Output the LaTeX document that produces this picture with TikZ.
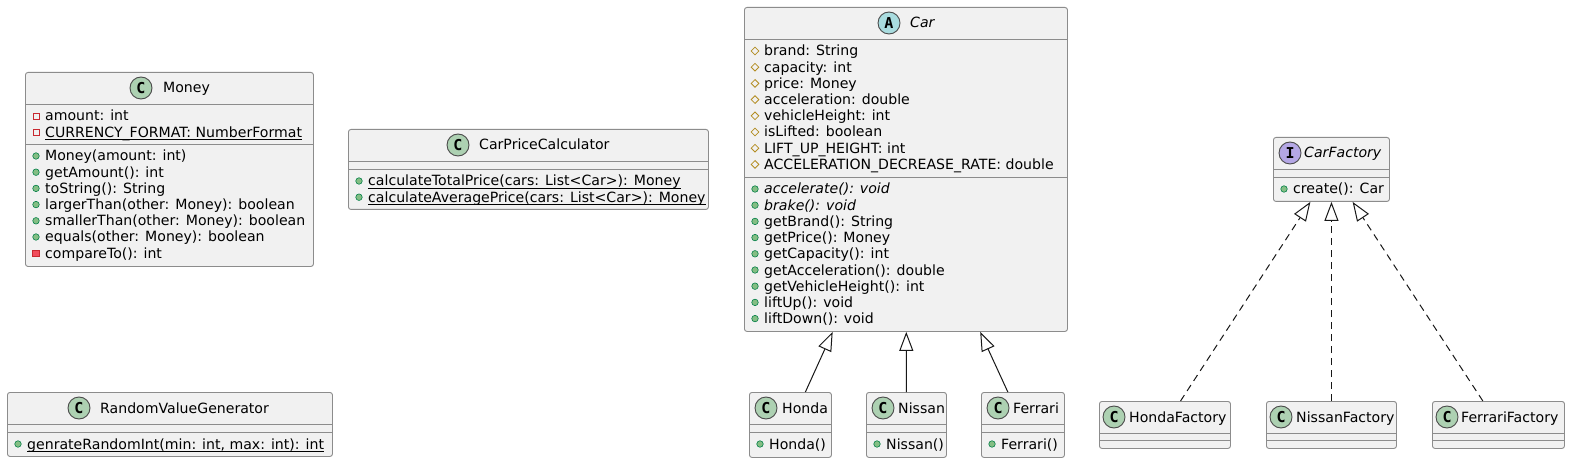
\documentclass[tikz,border=0pt]{standalone}
\usepackage{fontspec}
\setmainfont{DejaVu Sans}
\newfontfamily\spotfont{DejaVu Sans Mono}
\usetikzlibrary{arrows.meta,calc,shapes.geometric}
\definecolor{boxfill}{HTML}{F1F1F1}
\definecolor{boxline}{HTML}{181818}
\definecolor{boxedge}{HTML}{8C8C8C}
\definecolor{spotedge}{HTML}{4A4A4A}
\definecolor{spotC}{HTML}{ADD1B2}
\definecolor{spotA}{HTML}{A9DCDF}
\definecolor{spotI}{HTML}{B4A7E5}
\definecolor{pubfill}{HTML}{84BE84}
\definecolor{publine}{HTML}{038048}
\definecolor{privfill}{HTML}{F24D5C}
\definecolor{privline}{HTML}{C82930}
\definecolor{protline}{HTML}{B38D22}
\newcounter{mbr}
\newcommand\umlbox[5]{% name, left, top, width, height
  \node[classbox, minimum width=#4pt, minimum height=#5pt] (#1) at (#2,#3) {};}
\newcommand\hsep[2]{\draw[sepline] (#1.west |- 0,#2) -- (#1.east |- 0,#2);}
\newcommand\header[7]{% name, spot style, letter, spot x, top, text x, title
  \node[spot,#2] (#1-spot) at (#4,{#5+16}) {#3};
  \node[hdr] (#1-title) at (#6,{#5+21}) {#7};}
\newcommand\mem[5]{% icon style, left, section top, row, text
  \stepcounter{mbr}\edef\mbrn{\arabic{mbr}}%
  \node[#1] (ic\mbrn) at ({#2+11},{#3+12+16.2*#4}) {};
  \node[mtext] (mt\mbrn) at ({#2+20},{#3+17+16.2*#4}) {#5};}
\newcommand\smem[5]{\mem{#1}{#2}{#3}{#4}{#5}%
  \draw[uline] ([yshift=-2pt]mt\mbrn.base west) -- ([yshift=-2pt]mt\mbrn.base east);}
\tikzset{
  classbox/.style={draw=boxedge, fill=boxfill, line width=0.9pt, rounded corners=2.5pt, inner sep=0pt, anchor=north west},
  sepline/.style={draw=boxedge, line width=0.9pt},
  spot/.style={circle, draw=spotedge, line width=0.9pt, minimum size=22pt, inner sep=0pt, font=\spotfont\bfseries\fontsize{15pt}{15pt}\selectfont},
  hdr/.style={anchor=base west, inner sep=0pt, font=\fontsize{14.1pt}{16pt}\selectfont},
  mtext/.style={anchor=base west, inner sep=0pt, font=\fontsize{14.1pt}{16pt}\selectfont},
  uline/.style={draw=black, line width=0.7pt},
  pubm/.style={circle, fill=pubfill, draw=publine, line width=0.6pt, minimum size=6.5pt, inner sep=0pt},
  privf/.style={rectangle, draw=privline, line width=0.8pt, minimum size=6pt, inner sep=0pt},
  privm/.style={rectangle, fill=privfill, draw=privline, line width=0.8pt, minimum size=6.5pt, inner sep=0pt},
  protf/.style={diamond, aspect=1, draw=protline, line width=0.8pt, minimum width=8pt, minimum height=8pt, inner sep=0pt},
  ext/.style={draw=boxline, line width=1pt, -{Triangle[open, length=19pt, width=14pt]}},
  impl/.style={ext, dash pattern=on 7pt off 5pt},
}
\begin{document}
\begin{tikzpicture}[x=1pt, y=-1pt]
\useasboundingbox (0,0) rectangle (1570,462);
\fill[white] (0,0) rectangle (1570,462);

% Money
\umlbox{money}{25}{72}{288}{194}
\header{money}{fill=spotC}{C}{141}{72}{163}{Money}
\hsep{money}{104}\hsep{money}{144}
\mem{privf}{25}{104}{0}{amount: int}
\smem{privf}{25}{104}{1}{CURRENCY\_FORMAT: NumberFormat}
\mem{pubm}{25}{144}{0}{Money(amount: int)}
\mem{pubm}{25}{144}{1}{getAmount(): int}
\mem{pubm}{25}{144}{2}{toString(): String}
\mem{pubm}{25}{144}{3}{largerThan(other: Money): boolean}
\mem{pubm}{25}{144}{4}{smallerThan(other: Money): boolean}
\mem{pubm}{25}{144}{5}{equals(other: Money): boolean}
\mem{privm}{25}{144}{6}{compareTo(): int}

% CarPriceCalculator
\umlbox{cpc}{348}{129}{360}{80}
\header{cpc}{fill=spotC}{C}{458}{129}{479}{CarPriceCalculator}
\hsep{cpc}{161}\hsep{cpc}{169}
\smem{pubm}{348}{169}{0}{calculateTotalPrice(cars: List<Car>): Money}
\smem{pubm}{348}{169}{1}{calculateAveragePrice(cars: List<Car>): Money}

% RandomValueGenerator
\umlbox{rvg}{7}{392}{325}{64}
\header{rvg}{fill=spotC}{C}{79}{392}{100}{RandomValueGenerator}
\hsep{rvg}{424}\hsep{rvg}{432}
\smem{pubm}{7}{432}{0}{genrateRandomInt(min: int, max: int): int}

% Car
\umlbox{car}{744}{7}{323}{324}
\header{car}{fill=spotA}{A}{889}{7}{910}{\itshape Car}
\hsep{car}{39}\hsep{car}{177}
\mem{protf}{744}{39}{0}{brand: String}
\mem{protf}{744}{39}{1}{capacity: int}
\mem{protf}{744}{39}{2}{price: Money}
\mem{protf}{744}{39}{3}{acceleration: double}
\mem{protf}{744}{39}{4}{vehicleHeight: int}
\mem{protf}{744}{39}{5}{isLifted: boolean}
\mem{protf}{744}{39}{6}{LIFT\_UP\_HEIGHT: int}
\mem{protf}{744}{39}{7}{ACCELERATION\_DECREASE\_RATE: double}
\mem{pubm}{744}{177}{0}{\itshape accelerate(): void}
\mem{pubm}{744}{177}{1}{\itshape brake(): void}
\mem{pubm}{744}{177}{2}{getBrand(): String}
\mem{pubm}{744}{177}{3}{getPrice(): Money}
\mem{pubm}{744}{177}{4}{getCapacity(): int}
\mem{pubm}{744}{177}{5}{getAcceleration(): double}
\mem{pubm}{744}{177}{6}{getVehicleHeight(): int}
\mem{pubm}{744}{177}{7}{liftUp(): void}
\mem{pubm}{744}{177}{8}{liftDown(): void}

% Honda, Nissan, Ferrari
\umlbox{honda}{749}{392}{82}{65}
\header{honda}{fill=spotC}{C}{766}{392}{782}{Honda}
\hsep{honda}{424}\hsep{honda}{432}
\mem{pubm}{749}{432}{0}{Honda()}
\umlbox{nissan}{866}{392}{80}{65}
\header{nissan}{fill=spotC}{C}{883}{392}{898}{Nissan}
\hsep{nissan}{424}\hsep{nissan}{432}
\mem{pubm}{866}{432}{0}{Nissan()}
\umlbox{ferrari}{981}{392}{83}{65}
\header{ferrari}{fill=spotC}{C}{998}{392}{1013}{Ferrari}
\hsep{ferrari}{424}\hsep{ferrari}{432}
\mem{pubm}{981}{432}{0}{Ferrari()}

% CarFactory
\umlbox{cf}{1273}{137}{116}{64}
\header{cf}{fill=spotI}{I}{1290}{137}{1304}{\itshape CarFactory}
\hsep{cf}{169}\hsep{cf}{177}
\mem{pubm}{1273}{177}{0}{create(): Car}

% Factories
\umlbox{hf}{1099}{401}{131}{47}
\header{hf}{fill=spotC}{C}{1114}{401}{1129}{HondaFactory}
\hsep{hf}{433}\hsep{hf}{440}
\umlbox{nf}{1266}{401}{130}{47}
\header{nf}{fill=spotC}{C}{1281}{401}{1296}{NissanFactory}
\hsep{nf}{433}\hsep{nf}{440}
\umlbox{ff}{1432}{401}{132}{47}
\header{ff}{fill=spotC}{C}{1447}{401}{1461}{FerrariFactory}
\hsep{ff}{433}\hsep{ff}{440}

% Connectors
\draw[ext] (honda) -- (car);
\draw[ext] (nissan) -- (car);
\draw[ext] (ferrari) -- (car);
\draw[impl] (hf) -- (cf);
\draw[impl] (nf) -- (cf);
\draw[impl] (ff) -- (cf);
\end{tikzpicture}
\end{document}
